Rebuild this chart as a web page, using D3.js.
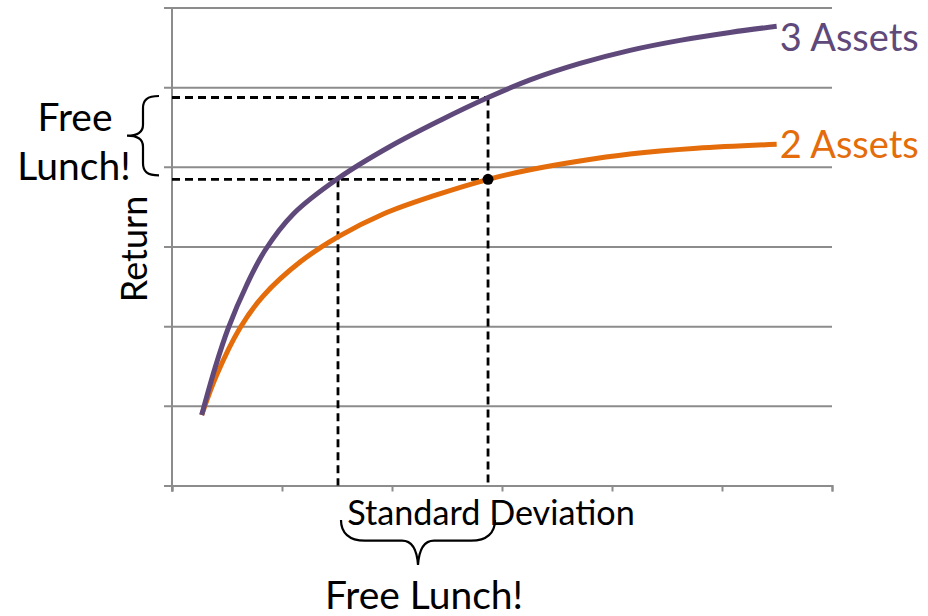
<!DOCTYPE html>
<html>
<head>
<meta charset="utf-8">
<script src="https://cdn.jsdelivr.net/npm/d3@7/dist/d3.min.js"></script>
<style>
  html, body { margin: 0; padding: 0; background: #fff; }
  svg { display: block; }
  text { font-family: Lato, "Open Sans", sans-serif; }
</style>
</head>
<body>
<svg id="chart" width="928" height="616"></svg>
<script>
// Efficient frontiers: standard deviation (x) vs. return (y)
const stdDev3 = [0.270, 0.391, 0.512, 0.679, 0.845, 1.103, 1.512, 1.982, 2.436, 2.873, 3.255, 3.709, 4.164, 4.618, 5.073, 5.497];
const return3 = [0.885, 1.475, 1.977, 2.517, 2.950, 3.408, 3.856, 4.255, 4.582, 4.870, 5.091, 5.298, 5.462, 5.587, 5.687, 5.764];
const stdDev2 = [0.270, 0.406, 0.618, 0.830, 1.164, 1.512, 1.921, 2.375, 2.875, 3.255, 3.679, 4.164, 4.770, 5.497];
const return2 = [0.885, 1.387, 1.977, 2.381, 2.805, 3.123, 3.408, 3.634, 3.843, 3.963, 4.067, 4.161, 4.233, 4.283];
const seriesNames = ["3 Assets", "2 Assets"];
const seriesColors = ["#5f497a", "#e46c0a"];

// Highlighted portfolio on the 2-asset frontier and its 3-asset counterparts
const chosenPoint = [2.873, 3.843];      // [std dev, return] on 2 Assets
const sameRiskReturn = [4.870];          // 3 Assets return at the same std dev
const sameReturnRisk = [1.509];          // 3 Assets std dev at the same return

const xTicks = [0, 1, 2, 3, 4, 5, 6];
const yTicks = [0, 1, 2, 3, 4, 5, 6];

const svg = d3.select("#chart");
const x = d3.scaleLinear().domain([0, 6]).range([172, 832]);
const y = d3.scaleLinear().domain([0, 6]).range([485.5, 7.5]);

const gridColor = "#8c8c8c";

// Horizontal gridlines (with short outward ticks)
const yAxis = d3.axisLeft(y).tickValues(yTicks).tickFormat("")
  .tickSizeInner(-(x.range()[1] - x.range()[0] + 8)).tickSizeOuter(0);
const gy = svg.append("g").attr("transform", `translate(${x(0) - 8},0)`).call(yAxis);
gy.select(".domain").remove();
gy.selectAll(".tick line").attr("stroke", gridColor).attr("stroke-width", 2);

// Vertical axis line
svg.append("line")
  .attr("x1", x(0)).attr("x2", x(0))
  .attr("y1", y(6)).attr("y2", y(0) + 6)
  .attr("stroke", gridColor).attr("stroke-width", 2);

// Bottom axis with downward ticks
const xAxis = d3.axisBottom(x).tickValues(xTicks).tickFormat("").tickSize(6).tickSizeOuter(6);
const gx = svg.append("g").attr("transform", `translate(0,${y(0)})`).call(xAxis);
gx.selectAll("line, path").attr("stroke", gridColor).attr("stroke-width", 2);

// Dashed guide lines
const guides = [
  [x(0), y(sameRiskReturn[0]), x(chosenPoint[0]), y(sameRiskReturn[0])],
  [x(0), y(chosenPoint[1]), x(chosenPoint[0]), y(chosenPoint[1])],
  [x(sameReturnRisk[0]), y(chosenPoint[1]), x(sameReturnRisk[0]), y(0)],
  [x(chosenPoint[0]), y(sameRiskReturn[0]), x(chosenPoint[0]), y(0)]
];
svg.append("g").selectAll("line").data(guides).join("line")
  .attr("x1", d => d[0]).attr("y1", d => d[1])
  .attr("x2", d => d[2]).attr("y2", d => d[3])
  .attr("stroke", "#000").attr("stroke-width", 2.8)
  .attr("stroke-dasharray", "8,5");

// Frontier curves
const line = d3.line().x(d => x(d[0])).y(d => y(d[1])).curve(d3.curveCatmullRom.alpha(0.5));
const series = [
  d3.zip(stdDev3, return3),
  d3.zip(stdDev2, return2)
];
// orange first so purple sits on top near the shared start
svg.append("path").datum(series[1]).attr("d", line)
  .attr("fill", "none").attr("stroke", seriesColors[1]).attr("stroke-width", 5);
svg.append("path").datum(series[0]).attr("d", line)
  .attr("fill", "none").attr("stroke", seriesColors[0]).attr("stroke-width", 5);

// Series labels at line ends
const labelDy = [25, 14];
series.forEach((s, i) => {
  const last = s[s.length - 1];
  svg.append("text")
    .attr("x", x(last[0]) + 3)
    .attr("y", y(last[1]) + labelDy[i])
    .attr("fill", seriesColors[i])
    .attr("font-size", 38)
    .text(seriesNames[i]);
});

// Highlighted portfolio
svg.append("circle")
  .attr("cx", x(chosenPoint[0])).attr("cy", y(chosenPoint[1]))
  .attr("r", 5.5).attr("fill", "#000");

// Curly braces
function braceV(xTip, y1, y2, depth) {
  const xm = xTip - depth / 2, xp = xTip - depth, ym = (y1 + y2) / 2;
  return `M${xTip},${y1} C${xm + 4},${y1} ${xm},${y1 + 4} ${xm},${y1 + 12}
          L${xm},${ym - 11} C${xm},${ym - 4} ${xm - 5},${ym} ${xp},${ym}
          C${xm - 5},${ym} ${xm},${ym + 4} ${xm},${ym + 11}
          L${xm},${y2 - 12} C${xm},${y2 - 4} ${xm + 4},${y2} ${xTip},${y2}`;
}
function braceH(x1, x2, yTip, depth) {
  const ym = yTip + depth * 0.46, yp = yTip + depth, xm = (x1 + x2) / 2;
  return `M${x1},${yTip} C${x1},${ym - 8} ${x1 + 8},${ym} ${x1 + 24},${ym}
          L${xm - 16},${ym} C${xm - 6},${ym} ${xm - 1},${ym + 10} ${xm},${yp}
          C${xm + 1},${ym + 10} ${xm + 6},${ym} ${xm + 16},${ym}
          L${x2 - 24},${ym} C${x2 - 8},${ym} ${x2},${ym - 8} ${x2},${yTip}`;
}
svg.append("path")
  .attr("d", braceV(159, y(sameRiskReturn[0]) - 1.5, y(chosenPoint[1]) - 4, 32))
  .attr("fill", "none").attr("stroke", "#000").attr("stroke-width", 2.2);
svg.append("path")
  .attr("d", braceH(x(sameReturnRisk[0]) + 3, x(chosenPoint[0]) + 7, 520, 45))
  .attr("fill", "none").attr("stroke", "#000").attr("stroke-width", 2.2);

// Axis titles
svg.append("text")
  .attr("x", 491).attr("y", 525)
  .attr("text-anchor", "middle").attr("font-size", 34.2)
  .text("Standard Deviation");
svg.append("text")
  .attr("transform", "translate(147,249) rotate(-90)")
  .attr("text-anchor", "middle").attr("font-size", 36)
  .text("Return");

// Free lunch annotations
svg.append("text").attr("x", 75).attr("y", 131)
  .attr("text-anchor", "middle").attr("font-size", 39).text("Free");
svg.append("text").attr("x", 74).attr("y", 180)
  .attr("text-anchor", "middle").attr("font-size", 39).text("Lunch!");
svg.append("text").attr("x", 424).attr("y", 609)
  .attr("text-anchor", "middle").attr("font-size", 39).text("Free Lunch!");
</script>
</body>
</html>
